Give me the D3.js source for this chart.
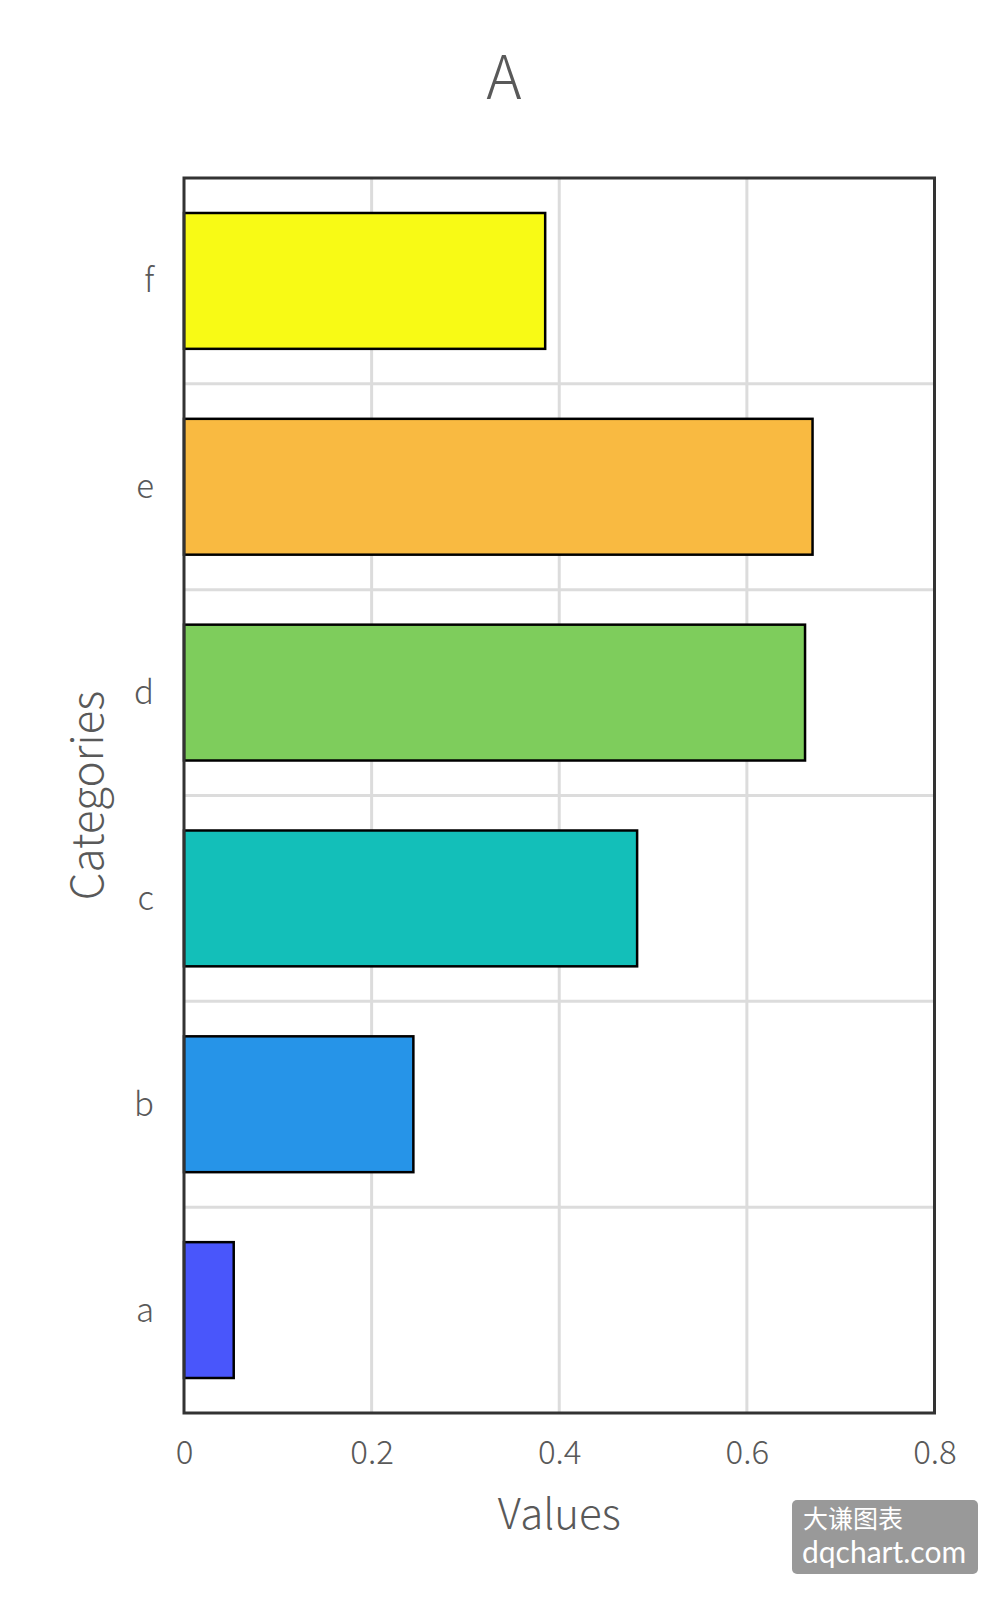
<!DOCTYPE html>
<html>
<head>
<meta charset="utf-8">
<script src="https://cdn.jsdelivr.net/npm/d3@7"></script>
<style>
  html, body { margin: 0; padding: 0; background: #fff; }
  svg { display: block; }
  text { font-family: "Noto Sans CJK SC", "Noto Sans", sans-serif; }
</style>
</head>
<body>
<script>
const categories = ["a", "b", "c", "d", "e", "f"];
const values = [0.053, 0.2445, 0.483, 0.662, 0.670, 0.385];
const barColors = ["#4956FB", "#2694E8", "#13BFB9", "#7ECD5C", "#F9BA41", "#F8FA15"];
const xTicks = [0, 0.2, 0.4, 0.6, 0.8];
const titleText = "A";
const xTitle = "Values";
const yTitle = "Categories";
const watermarkLines = ["大谦图表", "dqchart.com"];

const W = 1008, H = 1604;
const m = { left: 184, right: 1008 - 934.5, top: 178, bottom: 1604 - 1413 };
const pw = W - m.left - m.right, ph = H - m.top - m.bottom;

const svg = d3.select("body").append("svg").attr("width", W).attr("height", H);

const x = d3.scaleLinear().domain([0, 0.8]).range([0, pw]);
const y = d3.scaleBand().domain(categories.slice().reverse()).range([0, ph])
  .paddingInner(0.34).paddingOuter(0.17);

const g = svg.append("g").attr("transform", `translate(${m.left},${m.top})`);

// vertical gridlines
g.append("g").selectAll("line").data(xTicks.slice(1, -1)).join("line")
  .attr("x1", d => x(d)).attr("x2", d => x(d))
  .attr("y1", 0).attr("y2", ph)
  .attr("stroke", "#dcdcdc").attr("stroke-width", 3);

// horizontal gridlines at band boundaries
const step = y.step();
const bounds = d3.range(1, categories.length).map(i => i * step);
g.append("g").selectAll("line").data(bounds).join("line")
  .attr("x1", 0).attr("x2", pw)
  .attr("y1", d => d).attr("y2", d => d)
  .attr("stroke", "#dcdcdc").attr("stroke-width", 3);

// bars
g.append("g").selectAll("rect").data(categories).join("rect")
  .attr("x", 0)
  .attr("y", d => y(d))
  .attr("width", (d, i) => x(values[i]))
  .attr("height", y.bandwidth())
  .attr("fill", (d, i) => barColors[i])
  .attr("stroke", "#000").attr("stroke-width", 2.5);

// frame
g.append("rect").attr("x", 0).attr("y", 0).attr("width", pw).attr("height", ph)
  .attr("fill", "none").attr("stroke", "#333").attr("stroke-width", 3);

// x axis labels
const xAxis = g.append("g").attr("transform", `translate(0,${ph})`)
  .call(d3.axisBottom(x).tickValues(xTicks).tickSize(0).tickPadding(0)
    .tickFormat(d => d3.format("")(+d.toFixed(1))));
xAxis.select(".domain").remove();
xAxis.selectAll("text")
  .attr("y", 51).attr("dy", 0)
  .attr("fill", "#595959").attr("font-size", 33).attr("font-weight", 300)
  .attr("font-family", "\"Noto Sans CJK SC\", sans-serif");

// y axis labels
const yAxis = g.append("g")
  .call(d3.axisLeft(y).tickSize(0).tickPadding(0));
yAxis.select(".domain").remove();
yAxis.selectAll("text")
  .attr("x", -30).attr("dy", "0.35em")
  .attr("fill", "#595959").attr("font-size", 33).attr("font-weight", 300)
  .attr("font-family", "\"Noto Sans CJK SC\", sans-serif");

// title
svg.append("text").attr("x", 504).attr("y", 99)
  .attr("text-anchor", "middle").attr("fill", "#595959")
  .attr("font-size", 60).attr("font-weight", 300).text(titleText);

// axis titles
svg.append("text").attr("x", m.left + pw / 2).attr("y", 1529)
  .attr("text-anchor", "middle").attr("fill", "#595959")
  .attr("font-size", 42).attr("font-weight", 300).text(xTitle);

svg.append("text")
  .attr("transform", `translate(103,${m.top + ph / 2}) rotate(-90)`)
  .attr("text-anchor", "middle").attr("fill", "#595959")
  .attr("font-size", 44).attr("font-weight", 300).text(yTitle);

// watermark (one text block, two lines)
const wm = svg.append("g").attr("transform", "translate(792,1500)");
wm.append("rect").attr("width", 186).attr("height", 74).attr("rx", 5)
  .attr("fill", "#999999");
const wt = wm.append("text").attr("x", 11).attr("y", 28).attr("fill", "#fff");
wt.append("tspan").attr("x", 11).attr("y", 28).attr("font-size", 25).text(watermarkLines[0]);
wt.append("tspan").attr("x", 10).attr("y", 63).attr("font-size", 30)
  .attr("font-family", "Lato, \"Noto Sans\", sans-serif").text(watermarkLines[1]);
</script>
</body>
</html>
